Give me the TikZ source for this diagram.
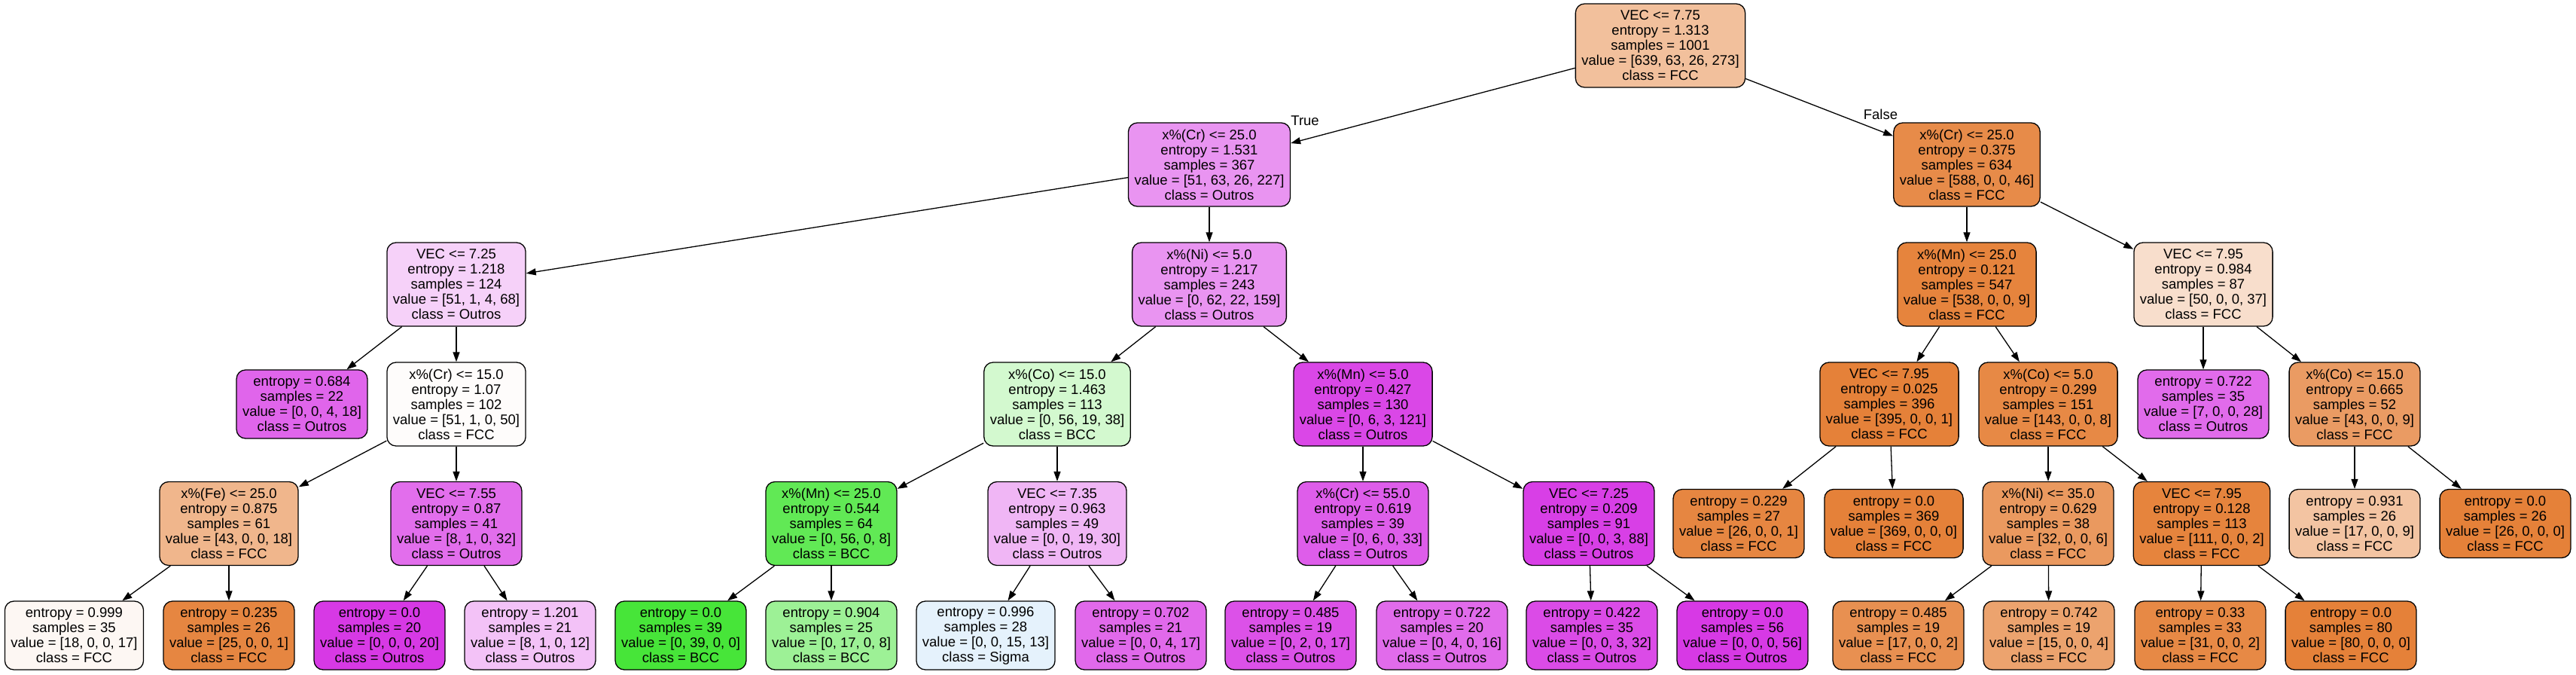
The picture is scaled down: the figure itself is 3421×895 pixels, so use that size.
\documentclass[tikz,border=0pt]{standalone}
\usepackage{fontspec}
\setmainfont{Liberation Sans}
\usepackage{tikz}
\usetikzlibrary{arrows.meta}

\definecolor{colFCC}{HTML}{E58139}
\definecolor{colBCC}{HTML}{47E539}
\definecolor{colSigma}{HTML}{399DE5}
\definecolor{colOutros}{HTML}{D739E5}

\tikzset{
  treebox/.style={draw, line width=1.3pt, rounded corners=12pt, align=center,
    inner xsep=8pt, inner ysep=2pt},
  splitbox/.style={treebox, minimum height=111pt},
  leafbox/.style={treebox, minimum height=91pt},
  fcc/.style={fill=colFCC!#1!white},
  bcc/.style={fill=colBCC!#1!white},
  sigma/.style={fill=colSigma!#1!white},
  outros/.style={fill=colOutros!#1!white},
  edge/.style={line width=1.3pt, -{Triangle[length=13pt,width=9pt]}}
}

\begin{document}
\begin{tikzpicture}[x=1pt, y=-1pt, font=\fontsize{18.5}{20}\selectfont]
    \useasboundingbox (0,0) rectangle (3421,895);
    % Root
    \node (n0) at (2205,60.5) [splitbox, fcc=50] {VEC <= 7.75\\entropy = 1.313\\samples = 1001\\value = [639, 63, 26, 273]\\class = FCC};
    % Level 1
    \node (n1a) at (1606,218.5) [splitbox, outros=54] {x\%(Cr) <= 25.0\\entropy = 1.531\\samples = 367\\value = [51, 63, 26, 227]\\class = Outros};
    \node (n1b) at (2612,218.5) [splitbox, fcc=92] {x\%(Cr) <= 25.0\\entropy = 0.375\\samples = 634\\value = [588, 0, 0, 46]\\class = FCC};
    % Level 2
    \node (n2a) at (606,377.5) [splitbox, outros=23] {VEC <= 7.25\\entropy = 1.218\\samples = 124\\value = [51, 1, 4, 68]\\class = Outros};
    \node (n2b) at (1606,377.5) [splitbox, outros=54] {x\%(Ni) <= 5.0\\entropy = 1.217\\samples = 243\\value = [0, 62, 22, 159]\\class = Outros};
    \node (n2c) at (2612,377.5) [splitbox, fcc=98] {x\%(Mn) <= 25.0\\entropy = 0.121\\samples = 547\\value = [538, 0, 0, 9]\\class = FCC};
    \node (n2d) at (2926,377.5) [splitbox, fcc=26] {VEC <= 7.95\\entropy = 0.984\\samples = 87\\value = [50, 0, 0, 37]\\class = FCC};
    % Level 3
    \node (n3a) at (401,536.5) [leafbox, outros=78] {entropy = 0.684\\samples = 22\\value = [0, 0, 4, 18]\\class = Outros};
    \node (n3b) at (606,536.5) [splitbox, fcc=2] {x\%(Cr) <= 15.0\\entropy = 1.07\\samples = 102\\value = [51, 1, 0, 50]\\class = FCC};
    \node (n3c) at (1404,536.5) [splitbox, bcc=24] {x\%(Co) <= 15.0\\entropy = 1.463\\samples = 113\\value = [0, 56, 19, 38]\\class = BCC};
    \node (n3d) at (1810,536.5) [splitbox, outros=93] {x\%(Mn) <= 5.0\\entropy = 0.427\\samples = 130\\value = [0, 6, 3, 121]\\class = Outros};
    \node (n3e) at (2509,536.5) [splitbox, fcc=100] {VEC <= 7.95\\entropy = 0.025\\samples = 396\\value = [395, 0, 0, 1]\\class = FCC};
    \node (n3f) at (2720,536.5) [splitbox, fcc=94] {x\%(Co) <= 5.0\\entropy = 0.299\\samples = 151\\value = [143, 0, 0, 8]\\class = FCC};
    \node (n3g) at (2926,536.5) [leafbox, outros=75] {entropy = 0.722\\samples = 35\\value = [7, 0, 0, 28]\\class = Outros};
    \node (n3h) at (3127,536.5) [splitbox, fcc=79] {x\%(Co) <= 15.0\\entropy = 0.665\\samples = 52\\value = [43, 0, 0, 9]\\class = FCC};
    % Level 4
    \node (n4a) at (304,695) [splitbox, fcc=58] {x\%(Fe) <= 25.0\\entropy = 0.875\\samples = 61\\value = [43, 0, 0, 18]\\class = FCC};
    \node (n4b) at (606,695) [splitbox, outros=73] {VEC <= 7.55\\entropy = 0.87\\samples = 41\\value = [8, 1, 0, 32]\\class = Outros};
    \node (n4c) at (1104,695) [splitbox, bcc=86] {x\%(Mn) <= 25.0\\entropy = 0.544\\samples = 64\\value = [0, 56, 0, 8]\\class = BCC};
    \node (n4d) at (1404,695) [splitbox, outros=37] {VEC <= 7.35\\entropy = 0.963\\samples = 49\\value = [0, 0, 19, 30]\\class = Outros};
    \node (n4e) at (1810,695) [splitbox, outros=82] {x\%(Cr) <= 55.0\\entropy = 0.619\\samples = 39\\value = [0, 6, 0, 33]\\class = Outros};
    \node (n4f) at (2110,695) [splitbox, outros=97] {VEC <= 7.25\\entropy = 0.209\\samples = 91\\value = [0, 0, 3, 88]\\class = Outros};
    \node (n4g) at (2309,695) [leafbox, fcc=96] {entropy = 0.229\\samples = 27\\value = [26, 0, 0, 1]\\class = FCC};
    \node (n4h) at (2515,695) [leafbox, fcc=100] {entropy = 0.0\\samples = 369\\value = [369, 0, 0, 0]\\class = FCC};
    \node (n4i) at (2720,695) [splitbox, fcc=81] {x\%(Ni) <= 35.0\\entropy = 0.629\\samples = 38\\value = [32, 0, 0, 6]\\class = FCC};
    \node (n4j) at (2924,695) [splitbox, fcc=98] {VEC <= 7.95\\entropy = 0.128\\samples = 113\\value = [111, 0, 0, 2]\\class = FCC};
    \node (n4k) at (3127,695) [leafbox, fcc=47] {entropy = 0.931\\samples = 26\\value = [17, 0, 0, 9]\\class = FCC};
    \node (n4l) at (3327,695) [leafbox, fcc=100] {entropy = 0.0\\samples = 26\\value = [26, 0, 0, 0]\\class = FCC};
    % Level 5
    \node (n5a) at (98.5,843.5) [leafbox, fcc=6] {entropy = 0.999\\samples = 35\\value = [18, 0, 0, 17]\\class = FCC};
    \node (n5b) at (304,843.5) [leafbox, fcc=96] {entropy = 0.235\\samples = 26\\value = [25, 0, 0, 1]\\class = FCC};
    \node (n5c) at (504,843.5) [leafbox, outros=100] {entropy = 0.0\\samples = 20\\value = [0, 0, 0, 20]\\class = Outros};
    \node (n5d) at (704,843.5) [leafbox, outros=31] {entropy = 1.201\\samples = 21\\value = [8, 1, 0, 12]\\class = Outros};
    \node (n5e) at (904,843.5) [leafbox, bcc=100] {entropy = 0.0\\samples = 39\\value = [0, 39, 0, 0]\\class = BCC};
    \node (n5f) at (1104,843.5) [leafbox, bcc=53] {entropy = 0.904\\samples = 25\\value = [0, 17, 0, 8]\\class = BCC};
    \node (n5g) at (1309,843.5) [leafbox, sigma=13] {entropy = 0.996\\samples = 28\\value = [0, 0, 15, 13]\\class = Sigma};
    \node (n5h) at (1515,843.5) [leafbox, outros=76] {entropy = 0.702\\samples = 21\\value = [0, 0, 4, 17]\\class = Outros};
    \node (n5i) at (1714,843.5) [leafbox, outros=88] {entropy = 0.485\\samples = 19\\value = [0, 2, 0, 17]\\class = Outros};
    \node (n5j) at (1915,843.5) [leafbox, outros=75] {entropy = 0.722\\samples = 20\\value = [0, 4, 0, 16]\\class = Outros};
    \node (n5k) at (2114,843.5) [leafbox, outros=91] {entropy = 0.422\\samples = 35\\value = [0, 0, 3, 32]\\class = Outros};
    \node (n5l) at (2314,843.5) [leafbox, outros=100] {entropy = 0.0\\samples = 56\\value = [0, 0, 0, 56]\\class = Outros};
    \node (n5m) at (2521,843.5) [leafbox, fcc=88] {entropy = 0.485\\samples = 19\\value = [17, 0, 0, 2]\\class = FCC};
    \node (n5n) at (2721,843.5) [leafbox, fcc=73] {entropy = 0.742\\samples = 19\\value = [15, 0, 0, 4]\\class = FCC};
    \node (n5o) at (2922,843.5) [leafbox, fcc=94] {entropy = 0.33\\samples = 33\\value = [31, 0, 0, 2]\\class = FCC};
    \node (n5p) at (3122,843.5) [leafbox, fcc=100] {entropy = 0.0\\samples = 80\\value = [80, 0, 0, 0]\\class = FCC};
    % Edges
    \draw[edge] (n0) -- node[pos=0.95, above, yshift=14pt] {True} (n1a);
    \draw[edge] (n0) -- node[pos=0.93, above, yshift=13pt, xshift=-3pt] {False} (n1b);
    \draw[edge] (n1a) -- (n2a); \draw[edge] (n1a) -- (n2b);
    \draw[edge] (n1b) -- (n2c); \draw[edge] (n1b) -- (n2d);
    \draw[edge] (n2a) -- (n3a); \draw[edge] (n2a) -- (n3b);
    \draw[edge] (n2b) -- (n3c); \draw[edge] (n2b) -- (n3d);
    \draw[edge] (n2c) -- (n3e); \draw[edge] (n2c) -- (n3f);
    \draw[edge] (n2d) -- (n3g); \draw[edge] (n2d) -- (n3h);
    \draw[edge] (n3b) -- (n4a); \draw[edge] (n3b) -- (n4b);
    \draw[edge] (n3c) -- (n4c); \draw[edge] (n3c) -- (n4d);
    \draw[edge] (n3d) -- (n4e); \draw[edge] (n3d) -- (n4f);
    \draw[edge] (n3e) -- (n4g); \draw[edge] (n3e) -- (n4h);
    \draw[edge] (n3f) -- (n4i); \draw[edge] (n3f) -- (n4j);
    \draw[edge] (n3h) -- (n4k); \draw[edge] (n3h) -- (n4l);
    \draw[edge] (n4a) -- (n5a); \draw[edge] (n4a) -- (n5b);
    \draw[edge] (n4b) -- (n5c); \draw[edge] (n4b) -- (n5d);
    \draw[edge] (n4c) -- (n5e); \draw[edge] (n4c) -- (n5f);
    \draw[edge] (n4d) -- (n5g); \draw[edge] (n4d) -- (n5h);
    \draw[edge] (n4e) -- (n5i); \draw[edge] (n4e) -- (n5j);
    \draw[edge] (n4f) -- (n5k); \draw[edge] (n4f) -- (n5l);
    \draw[edge] (n4i) -- (n5m); \draw[edge] (n4i) -- (n5n);
    \draw[edge] (n4j) -- (n5o); \draw[edge] (n4j) -- (n5p);
\end{tikzpicture}
\end{document}
